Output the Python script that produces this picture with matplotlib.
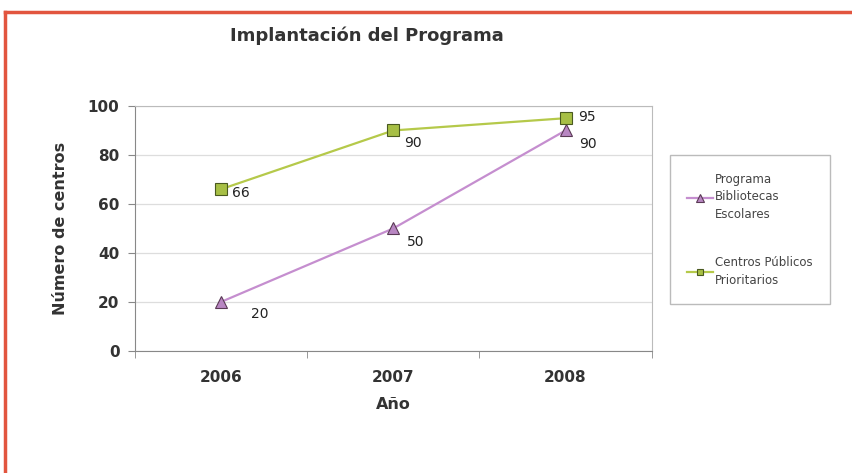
import matplotlib.pyplot as plt
from matplotlib.lines import Line2D

years = ["2006", "2007", "2008"]
bibliotecas = [20, 50, 90]
centros = [66, 90, 95]

fig = plt.figure(figsize=(8.53, 4.73), dpi=100)
ax = fig.add_axes([0.158, 0.258, 0.606, 0.518])

# red frame at the top and left (the picture is cropped)
fig.add_artist(Line2D([0.006, 0.006], [0.0, 0.975], color="#e2553f", lw=2.5,
                      transform=fig.transFigure))
fig.add_artist(Line2D([0.006, 1.0], [0.975, 0.975], color="#e2553f", lw=2.5,
                      transform=fig.transFigure))

x = list(range(len(years)))
ax.plot(x, bibliotecas, color="#c58ecf", lw=1.6, marker="^", ms=9,
        markerfacecolor="#b886c2", markeredgecolor="#5a3a55", markeredgewidth=0.8,
        label="Programa\nBibliotecas\nEscolares", zorder=3)
ax.plot(x, centros, color="#b5c94a", lw=1.6, marker="s", ms=8,
        markerfacecolor="#a7bf45", markeredgecolor="#4a5a20", markeredgewidth=0.8,
        label="Centros Públicos\nPrioritarios", zorder=3)

# data labels
offs_b = [(22, -9), (10, -10), (10, -10)]
offs_c = [(8, -3), (8, -9), (9, 1)]
for xi, v, o in zip(x, bibliotecas, offs_b):
    ax.annotate(str(v), (xi, v), xytext=o, textcoords="offset points",
                fontsize=10, color="#222222", va="center", ha="left")
for xi, v, o in zip(x, centros, offs_c):
    ax.annotate(str(v), (xi, v), xytext=o, textcoords="offset points",
                fontsize=10, color="#222222", va="center", ha="left")

ax.set_xlim(-0.5, 2.5)
ax.set_ylim(0, 100)
ax.set_yticks([0, 20, 40, 60, 80, 100])
ax.set_xticks(x)
ax.set_xticklabels(years)
ax.set_xticks([-0.5, 0.5, 1.5, 2.5], minor=True)
ax.tick_params(axis="x", which="major", length=0, pad=14)
ax.tick_params(axis="x", which="minor", length=5, color="#888888", direction="out")
ax.tick_params(axis="y", length=5, color="#888888", pad=6)
for lab in ax.get_xticklabels() + ax.get_yticklabels():
    lab.set_fontweight("bold")
    lab.set_fontsize(11)
    lab.set_color("#333333")

ax.grid(axis="y", color="#dddddd", lw=0.9)
ax.set_axisbelow(True)
for s in ax.spines.values():
    s.set_color("#bbbbbb")
ax.spines["left"].set_color("#888888")
ax.spines["bottom"].set_color("#888888")

ax.set_xlabel("Año", fontsize=11.5, fontweight="bold", color="#333333", labelpad=8)
ax.set_ylabel("Número de centros", fontsize=11.5, fontweight="bold", color="#333333", labelpad=14)

fig.text(0.43, 0.925, "Implantación del Programa", fontsize=13, fontweight="bold",
         color="#333333", ha="center", va="center")

leg = fig.legend(loc="upper left", bbox_to_anchor=(0.785, 0.672), fontsize=8.5,
                 frameon=True, fancybox=False, edgecolor="#aaaaaa",
                 handlelength=2.2, handletextpad=0.15, labelspacing=3.0,
                 borderpad=1.5, borderaxespad=0, markerscale=0.6)
leg.get_frame().set_linewidth(1.0)
for t in leg.get_texts():
    t.set_color("#444444")
    t.set_linespacing(1.45)

fig.savefig("out.png", dpi=100)
